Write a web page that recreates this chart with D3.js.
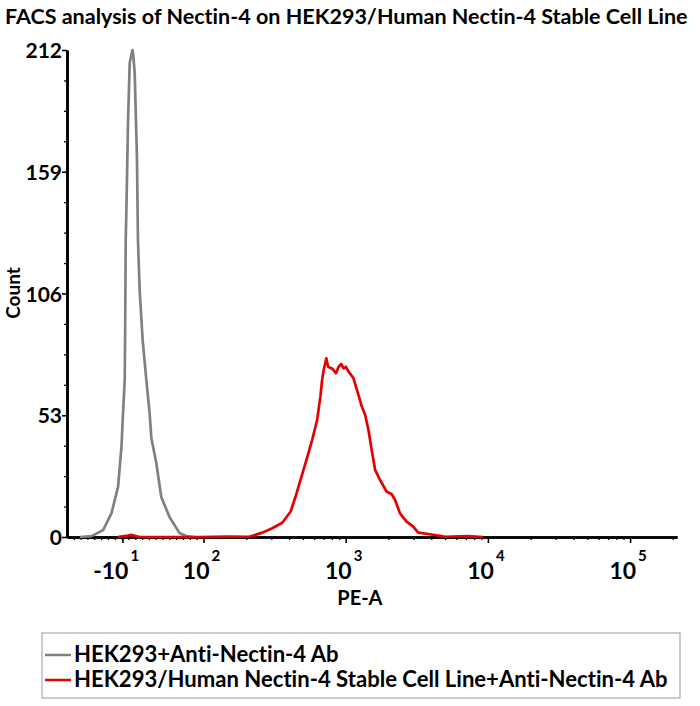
<!DOCTYPE html>
<html>
<head>
<meta charset="utf-8">
<script src="https://cdn.jsdelivr.net/npm/d3@7"></script>
<style>
  body { margin: 0; background: #fff; }
  svg { display: block; font-family: Lato, "Open Sans", sans-serif; font-weight: bold; font-variant-ligatures: none; }
</style>
</head>
<body>
<div id="chart"></div>
<script>
// PE-A position in decades on the biexponential display axis
const isotypeX = [1.131, 1.213, 1.294, 1.353, 1.399, 1.423, 1.434, 1.446, 1.449, 1.453, 1.458, 1.469, 1.481, 1.500,
  1.506, 1.516, 1.532, 1.539, 1.551, 1.572, 1.598, 1.621, 1.633, 1.668, 1.703, 1.761, 1.831, 1.878, 1.936];
const isotypeCount = [0, 0.4, 3.0, 10.4, 21.8, 39.2, 54.0, 68.3, 90, 129.3, 143.6, 180.2, 206.3, 212,
  209.8, 202, 165.4, 129.3, 107.5, 85.8, 68.3, 54.0, 43.1, 32.2, 17.4, 8.7, 1.7, 0.4, 0];

const stableX = [1.397, 1.467, 1.495, 1.551, 1.971, 2.181, 2.321, 2.414, 2.484, 2.554, 2.612, 2.647, 2.682, 2.717,
  2.764, 2.799, 2.822, 2.834, 2.845, 2.864, 2.876, 2.904, 2.932, 2.950, 2.969, 2.985, 3.002, 3.020, 3.055,
  3.079, 3.114, 3.137, 3.160, 3.183, 3.207, 3.242, 3.288, 3.323, 3.347, 3.382, 3.428, 3.475, 3.510, 3.580,
  3.673, 3.700, 3.860, 3.965];
const stableCount = [0, 0.6, 0.9, 0, 0, 0.2, 0.1, 1.9, 3.8, 6.2, 11.0, 17.5, 24.8, 32.1,
  42.2, 50.9, 61.1, 68.3, 72.7, 77.8, 74.1, 73.4, 71.3, 74.1, 75.3, 73.4, 74.1, 72.0, 69.1,
  64.0, 56.7, 53.1, 46.6, 37.9, 29.2, 24.8, 19.7, 18.7, 16.1, 10.3, 6.7, 4.5, 1.9, 1.3,
  0.4, 0.1, 0.4, 0];

const yTicks = [0, 53, 106, 159, 212];
const xTickPos = [1.43, 2, 3, 4, 5];
const xTickBase = ["-10", "10", "10", "10", "10"];
const xTickExp = ["1", "2", "3", "4", "5"];

const seriesNames = ["HEK293+Anti-Nectin-4 Ab", "HEK293/Human Nectin-4 Stable Cell Line+Anti-Nectin-4 Ab"];
const seriesColors = ["#808080", "#e60000"];

const W = 700, H = 706;
const margin = {top: 50, right: 20, bottom: 169, left: 67};
const width = W - margin.left - margin.right;
const height = H - margin.top - margin.bottom;

const svg = d3.select("#chart").append("svg")
    .attr("width", W)
    .attr("height", H);

const g = svg.append("g")
    .attr("transform", "translate(" + margin.left + "," + margin.top + ")");

const x = d3.scaleLinear().domain([1.04, 5.33]).range([0, width - 3]);
const y = d3.scaleLinear().domain([0, 212]).range([height, 0]);

// minor ticks: linear zone on the left, log minors above 10^2
const xMinor = d3.range(1.088, 1.98, 0.048)
    .concat(d3.merge([2, 3, 4].map(e => d3.range(2, 10).map(k => e + Math.log10(k)))))
    .concat([5 + Math.log10(2)]);
const yMinor = d3.range(0, 212.1, 13.25).filter(v => yTicks.indexOf(v) < 0);

function styleAxis(sel, w) {
    sel.select(".domain").attr("stroke", "#000").attr("stroke-width", 2.6);
    sel.selectAll(".tick line").attr("stroke", "#000").attr("stroke-width", w);
}

g.append("g").attr("transform", "translate(0," + height + ")")
    .call(d3.axisBottom(x).tickValues(xMinor).tickSize(3).tickSizeOuter(0).tickFormat(""))
    .call(s => styleAxis(s, 1.3));
g.append("g").attr("transform", "translate(0," + height + ")")
    .call(d3.axisBottom(x).tickValues(xTickPos).tickSize(6).tickSizeOuter(0).tickFormat(""))
    .call(s => styleAxis(s, 1.6));

g.append("g")
    .call(d3.axisLeft(y).tickValues(yMinor).tickSize(3).tickSizeOuter(0).tickFormat(""))
    .call(s => styleAxis(s, 1.3));
g.append("g")
    .call(d3.axisLeft(y).tickValues(yTicks).tickSize(5).tickSizeOuter(0).tickFormat(""))
    .call(s => styleAxis(s, 1.6));

// y tick labels
g.selectAll(".ylab")
    .data(yTicks)
    .enter()
    .append("text")
    .attr("x", -5)
    .attr("y", d => y(d) + 8)
    .attr("text-anchor", "end")
    .attr("font-size", 21)
    .text(d => d);

// x tick labels with superscript exponent
xTickPos.forEach((p, i) => {
    g.append("text")
        .attr("x", x(p) + 6)
        .attr("y", height + 42)
        .attr("text-anchor", "end")
        .attr("font-size", 23)
        .text(xTickBase[i]);
    g.append("text")
        .attr("x", x(p) + 8)
        .attr("y", height + 24)
        .attr("font-size", 15)
        .text(xTickExp[i]);
});

// histograms
const line = d3.line().x(d => x(d[0])).y(d => y(d[1]));
const series = [d3.zip(isotypeX, isotypeCount), d3.zip(stableX, stableCount)];
series.forEach((s, i) => {
    g.append("path")
        .datum(s)
        .attr("fill", "none")
        .attr("stroke", seriesColors[i])
        .attr("stroke-width", 2.7)
        .attr("stroke-linejoin", "round")
        .attr("d", line);
});

// fit a text to a given width
function fit(sel, target) {
    const len = sel.node().getComputedTextLength();
    const fs = parseFloat(sel.attr("font-size"));
    sel.attr("font-size", fs * target / len);
}

// axis titles
g.append("text")
    .attr("x", x(3.1))
    .attr("y", height + 68)
    .attr("text-anchor", "middle")
    .attr("font-size", 20)
    .text("PE-A");

svg.append("text")
    .attr("transform", "translate(20,293) rotate(-90)")
    .attr("text-anchor", "middle")
    .attr("font-size", 19)
    .text("Count");

// title
const title = svg.append("text")
    .attr("x", 5)
    .attr("y", 24)
    .attr("font-size", 17)
    .text("FACS analysis of Nectin-4 on HEK293/Human Nectin-4 Stable Cell Line");
fit(title, 683);

// legend
const legend = svg.append("g").attr("transform", "translate(42,633)");
legend.append("rect")
    .attr("width", 638)
    .attr("height", 65)
    .attr("fill", "#fff")
    .attr("stroke", "#999")
    .attr("stroke-width", 1);
const items = legend.selectAll(".item")
    .data(seriesNames)
    .enter()
    .append("g")
    .attr("transform", (d, i) => "translate(0," + (22 + i * 25) + ")");
items.append("line")
    .attr("x1", 3).attr("x2", 29)
    .attr("stroke", (d, i) => seriesColors[i])
    .attr("stroke-width", 2.5);
const labels = items.append("text")
    .attr("x", 32)
    .attr("y", 7)
    .attr("font-size", 18)
    .text(d => d);
fit(d3.select(labels.nodes()[1]), 594);
d3.select(labels.nodes()[0]).attr("font-size", d3.select(labels.nodes()[1]).attr("font-size"));
</script>
</body>
</html>
